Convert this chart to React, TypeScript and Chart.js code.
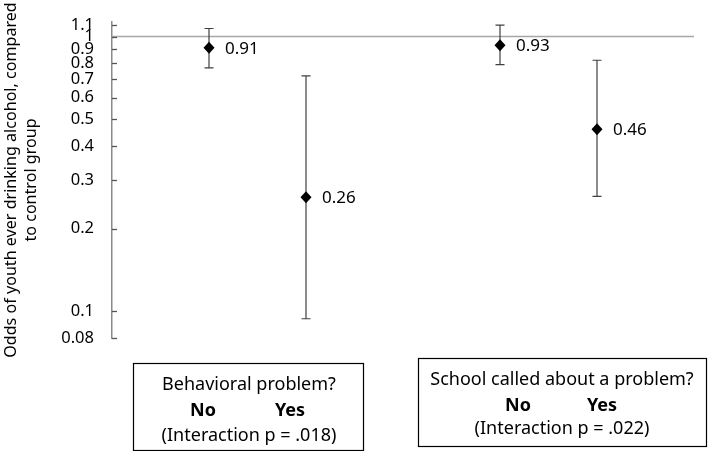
import React, { useEffect, useRef } from "react";
import { Chart, registerables } from "chart.js";
Chart.register(...registerables);

const categories = ["Behavioral: No", "Behavioral: Yes", "School called: No", "School called: Yes"];
const xPositions = [1, 2, 4, 5];
const oddsRatios = [0.91, 0.26, 0.93, 0.46];
const lowerCI = [0.77, 0.094, 0.79, 0.262];
const upperCI = [1.07, 0.72, 1.1, 0.82];
const yTicks = [0.08, 0.1, 0.2, 0.3, 0.4, 0.5, 0.6, 0.7, 0.8, 0.9, 1, 1.1];
const referenceValue = 1;
const groupTitles = ["Behavioral problem?", "School called about a problem?"];
const groupPValues = ["(Interaction p = .018)", "(Interaction p = .022)"];
const subLabels = ["No", "Yes"];
const yTitle = ["Odds of youth ever drinking alcohol, compared", "to control group"];

const FONT = "'Noto Sans', 'Open Sans', sans-serif";

const overlayPlugin = {
  id: "overlay",
  afterDatasetsDraw(chart: any) {
    const ctx = chart.ctx;
    const xs = chart.scales.x;
    const ys = chart.scales.y;
    ctx.save();
    // inside tick marks
    ctx.strokeStyle = "#555";
    ctx.lineWidth = 1.3;
    const ax = chart.chartArea.left;
    yTicks.forEach((v) => {
      const y = Math.round(ys.getPixelForValue(v)) + 0.5;
      ctx.beginPath();
      ctx.moveTo(ax, y);
      ctx.lineTo(ax + 5, y);
      ctx.stroke();
    });
    // error bars
    ctx.strokeStyle = "#404040";
    ctx.lineWidth = 1.2;
    xPositions.forEach((xv, i) => {
      const x = xs.getPixelForValue(xv);
      const yl = ys.getPixelForValue(lowerCI[i]);
      const yu = ys.getPixelForValue(upperCI[i]);
      ctx.beginPath();
      ctx.moveTo(x, yl);
      ctx.lineTo(x, yu);
      ctx.moveTo(x - 4.5, yl);
      ctx.lineTo(x + 4.5, yl);
      ctx.moveTo(x - 4.5, yu);
      ctx.lineTo(x + 4.5, yu);
      ctx.stroke();
    });
    // points and value labels
    ctx.fillStyle = "#000";
    xPositions.forEach((xv, i) => {
      const x = xs.getPixelForValue(xv);
      const y = ys.getPixelForValue(oddsRatios[i]);
      ctx.beginPath();
      ctx.moveTo(x, y - 6);
      ctx.lineTo(x + 5.5, y);
      ctx.lineTo(x, y + 6);
      ctx.lineTo(x - 5.5, y);
      ctx.closePath();
      ctx.fill();
      ctx.font = `17px ${FONT}`;
      ctx.textBaseline = "middle";
      ctx.textAlign = "left";
      ctx.fillText(oddsRatios[i].toFixed(2), x + 16, y + 1);
    });
    // group boxes
    const boxes = [
      { l: 133, t: 363, r: 363, b: 450, cx: 249, ty: [385, 411, 436], sx: [203, 290] },
      { l: 418, t: 358, r: 706, b: 446, cx: 562, ty: [380, 406, 429], sx: [518, 602] },
    ];
    boxes.forEach((bx, i) => {
      ctx.strokeStyle = "#000";
      ctx.lineWidth = 1.2;
      ctx.strokeRect(bx.l + 0.5, bx.t + 0.5, bx.r - bx.l, bx.b - bx.t);
      ctx.fillStyle = "#000";
      ctx.textAlign = "center";
      ctx.textBaseline = "middle";
      ctx.font = `18px ${FONT}`;
      ctx.fillText(groupTitles[i], bx.cx, bx.ty[0]);
      ctx.font = `bold 18px ${FONT}`;
      ctx.fillText(subLabels[0], bx.sx[0], bx.ty[1]);
      ctx.fillText(subLabels[1], bx.sx[1], bx.ty[1]);
      ctx.font = `18px ${FONT}`;
      ctx.fillText(groupPValues[i], bx.cx, bx.ty[2]);
    });
    ctx.restore();
  },
};

export default function App() {
  const ref = useRef<HTMLCanvasElement>(null);
  useEffect(() => {
    if (!ref.current) return;
    const chart = new Chart(ref.current, {
      type: "scatter",
      data: {
        labels: categories,
        datasets: [
          {
            label: "Reference",
            data: [
              { x: 0, y: referenceValue },
              { x: 6, y: referenceValue },
            ],
            showLine: true,
            borderColor: "#a6a6a6",
            borderWidth: 1.5,
            pointRadius: 0,
          },
          {
            label: "Odds ratio",
            data: xPositions.map((x, i) => ({ x, y: oddsRatios[i] })),
            pointStyle: "rectRot",
            pointRadius: 0,
            backgroundColor: "#000",
            borderColor: "#000",
          },
        ],
      },
      options: {
        responsive: false,
        animation: false,
        devicePixelRatio: 1,
        layout: { padding: { top: 22, right: 15, bottom: 113, left: 0 } },
        plugins: { legend: { display: false }, tooltip: { enabled: false } },
        scales: {
          x: { type: "linear", min: 0, max: 6, display: false },
          y: {
            type: "logarithmic",
            min: 0.08,
            max: 1.13,
            afterBuildTicks: (scale: any) => {
              scale.ticks = yTicks.map((v) => ({ value: v }));
            },
            afterFit: (scale: any) => {
              scale.width = 112;
            },
            grid: {
              display: true,
              drawOnChartArea: false,
              drawTicks: true,
              tickLength: 18,
              tickColor: "rgba(0,0,0,0)",
            },
            border: { display: true, color: "#8a8a8a", width: 1.5 },
            ticks: {
              autoSkip: false,
              padding: 0,
              color: "#000",
              font: { family: FONT, size: 16.5 },
              callback: (v: any) => String(v),
            },
            title: {
              display: true,
              text: yTitle,
              color: "#000",
              font: { family: FONT, size: 16.1, lineHeight: 1.2 },
              padding: { top: 2, bottom: 0 },
            },
          },
        },
      },
      plugins: [overlayPlugin],
    });
    return () => chart.destroy();
  }, []);
  return (
    <div style={{ position: "absolute", left: 0, top: 0, width: 709, height: 451, background: "#fff" }}>
      <canvas ref={ref} width={709} height={451} />
    </div>
  );
}
